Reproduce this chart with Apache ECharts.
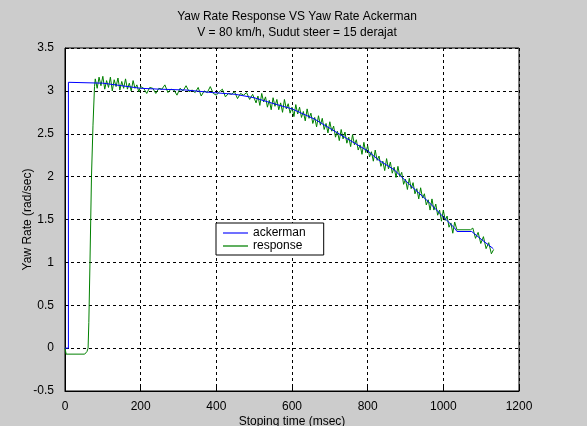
<!DOCTYPE html>
<html>
<head>
<meta charset="utf-8">
<script src="https://cdn.jsdelivr.net/npm/echarts@6/dist/echarts.min.js"></script>
<style>
  html, body { margin: 0; padding: 0; background: #cccccc; }
  #main { width: 587px; height: 426px; }
</style>
</head>
<body>
<div id="main"></div>
<script>
var chartTitle = 'Yaw Rate Response VS Yaw Rate Ackerman\nV = 80 km/h, Sudut steer = 15 derajat';
var xName = 'Stoping time (msec)';
var yName = 'Yaw Rate (rad/sec)';
var seriesNames = ['ackerman', 'response'];

// [time msec, yaw rate rad/sec]
var ackerman = [
    [0, 0], [9, 0], [9, 3.1], [100, 3.09], [150, 3.06], [200, 3.03], [250, 3.02],
    [320, 3.01], [390, 2.98], [450, 2.96], [500, 2.92], [560, 2.84], [600, 2.79],
    [660, 2.67], [720, 2.51], [800, 2.30], [830, 2.19], [870, 2.08], [910, 1.91],
    [960, 1.71], [1000, 1.53], [1030, 1.40], [1036, 1.36], [1075, 1.36],
    [1100, 1.27], [1132, 1.16]
];

// start-up part of the response
var responseStart = [
    [0, 0], [3, -0.07], [52, -0.07], [58, -0.04], [61, 0], [63, 0.3], [66, 1.0],
    [70, 2.0], [74, 2.6], [78, 3.05],
    [80, 3.14], [85, 3.03], [90, 3.16], [95, 3.06], [100, 3.17], [105, 3.02], [110, 3.12], [115, 3.04], [120, 3.16], [125, 3.00],
    [130, 3.13], [135, 3.05], [140, 3.15], [145, 3.01], [150, 3.11], [155, 3.03], [160, 3.14], [165, 3.02], [170, 3.09], [175, 3.00],
    [180, 3.12], [185, 3.03], [190, 3.07], [195, 2.99], [200, 3.05]
];

// flat-ish part
var responseMid = [
    [208, 3.03], [216, 2.97], [224, 3.04], [232, 3.03],
    [240, 2.97], [248, 3.03], [256, 3.02], [264, 3.07], [272, 2.98], [280, 3.02], [288, 3.01], [296, 2.95], [304, 3.03], [312, 3.00],
    [320, 3.06], [328, 2.99], [336, 3.01], [344, 2.98], [352, 3.04], [360, 2.94], [368, 3.00], [376, 2.98], [384, 3.05], [392, 2.97],
    [400, 2.95], [408, 2.99], [416, 3.02], [424, 2.93], [432, 2.97], [440, 2.96], [448, 2.99], [456, 2.91], [464, 2.97], [472, 2.95],
    [480, 2.98], [488, 2.90], [496, 2.96]
];

// falling part
var responseFall = [
    [500, 2.98], [505, 2.86], [510, 2.94], [515, 2.83], [520, 2.97], [525, 2.87], [530, 2.93], [535, 2.81], [540, 2.89], [545, 2.78],
    [550, 2.92], [555, 2.82], [560, 2.90], [565, 2.78], [570, 2.86], [575, 2.75], [580, 2.90], [585, 2.79], [590, 2.85], [595, 2.74],
    [600, 2.81], [605, 2.70], [610, 2.84], [615, 2.73], [620, 2.81], [625, 2.69], [630, 2.76], [635, 2.65], [640, 2.79], [645, 2.68],
    [650, 2.74], [655, 2.62], [660, 2.69], [665, 2.58], [670, 2.71], [675, 2.60], [680, 2.68], [685, 2.55], [690, 2.62], [695, 2.51],
    [700, 2.64], [705, 2.53], [710, 2.59], [715, 2.46], [720, 2.53], [725, 2.42], [730, 2.55], [735, 2.44], [740, 2.52], [745, 2.39],
    [750, 2.46], [755, 2.35], [760, 2.49], [765, 2.37], [770, 2.43], [775, 2.31], [780, 2.37], [785, 2.26], [790, 2.40], [795, 2.28],
    [800, 2.36], [805, 2.23], [810, 2.29], [815, 2.18], [820, 2.31], [825, 2.19], [830, 2.24], [835, 2.12], [840, 2.18], [845, 2.07],
    [850, 2.21], [855, 2.09], [860, 2.17], [865, 2.04], [870, 2.11], [875, 1.99], [880, 2.12], [885, 2.00], [890, 2.05], [895, 1.91],
    [900, 1.97], [905, 1.85], [910, 1.98], [915, 1.86], [920, 1.93], [925, 1.80], [930, 1.86], [935, 1.74], [940, 1.87], [945, 1.75],
    [950, 1.80], [955, 1.67], [960, 1.73], [965, 1.61], [970, 1.74], [975, 1.61], [980, 1.68], [985, 1.55], [990, 1.61], [995, 1.48],
    [1000, 1.61], [1005, 1.49], [1010, 1.54], [1015, 1.41], [1020, 1.46], [1025, 1.34], [1030, 1.47],
    [1036, 1.38], [1072, 1.38], [1078, 1.40], [1085, 1.28], [1092, 1.35], [1099, 1.22], [1106, 1.30], [1113, 1.16],
    [1120, 1.23], [1127, 1.10], [1133, 1.15]
];

var response = responseStart.concat(responseMid, responseFall);

var myChart = echarts.init(document.getElementById('main'));

var font = 'Liberation Sans, Arial, sans-serif';

var option = {
    backgroundColor: '#cccccc',
    animation: false,
    title: {
        text: chartTitle,
        left: 292,
        textAlign: 'center',
        top: 4,
        textStyle: {
            fontFamily: font,
            fontSize: 12,
            fontWeight: 'normal',
            color: '#000',
            lineHeight: 16
        }
    },
    legend: {
        orient: 'vertical',
        left: 216,
        top: 223,
        data: [
            { name: seriesNames[0], itemStyle: { color: '#7070ff' } },
            { name: seriesNames[1], itemStyle: { color: '#60b060' } }
        ],
        icon: 'rect',
        itemWidth: 25,
        itemHeight: 2,
        itemGap: 1,
        padding: [4, 18, 3, 7],
        backgroundColor: '#ffffff',
        borderColor: '#000',
        borderWidth: 1,
        borderRadius: 0,
        textStyle: {
            fontFamily: font,
            fontSize: 12,
            color: '#000'
        }
    },
    grid: {
        left: 65,
        right: 68,
        top: 48,
        bottom: 35,
        containLabel: false,
        outerBoundsMode: 'none',
        show: true,
        backgroundColor: '#ffffff',
        borderColor: '#000',
        borderWidth: 1
    },
    xAxis: {
        type: 'value',
        min: 0,
        max: 1200,
        interval: 200,
        name: xName,
        nameLocation: 'middle',
        nameGap: 25,
        nameMoveOverlap: false,
        nameTextStyle: { fontFamily: font, fontSize: 12, color: '#000' },
        axisLine: { onZero: false, lineStyle: { color: '#000' } },
        axisTick: { inside: true, length: 4, lineStyle: { color: '#000' } },
        axisLabel: {
            fontFamily: font, fontSize: 12, color: '#000', margin: 10,
            formatter: function (v) { return String(v); }
        },
        splitLine: { lineStyle: { color: '#000', type: [3, 3] } }
    },
    yAxis: {
        type: 'value',
        min: -0.5,
        max: 3.5,
        interval: 0.5,
        name: yName,
        nameLocation: 'middle',
        nameGap: 31,
        nameMoveOverlap: false,
        nameTextStyle: { fontFamily: font, fontSize: 12, color: '#000' },
        axisLine: { lineStyle: { color: '#000' } },
        axisTick: { inside: true, length: 4, lineStyle: { color: '#000' } },
        axisLabel: { fontFamily: font, fontSize: 12, color: '#000', margin: 11 },
        splitLine: { lineStyle: { color: '#000', type: [3, 3] } }
    },
    series: [
        {
            name: seriesNames[0],
            type: 'line',
            showSymbol: false,
            data: ackerman,
            itemStyle: { color: '#0000ff' },
            lineStyle: { color: '#0000ff', width: 1 },
            z: 3
        },
        {
            name: seriesNames[1],
            type: 'line',
            showSymbol: false,
            data: response,
            itemStyle: { color: '#008000' },
            lineStyle: { color: '#008000', width: 1 },
            z: 2
        }
    ]
};

myChart.setOption(option);
</script>
</body>
</html>
